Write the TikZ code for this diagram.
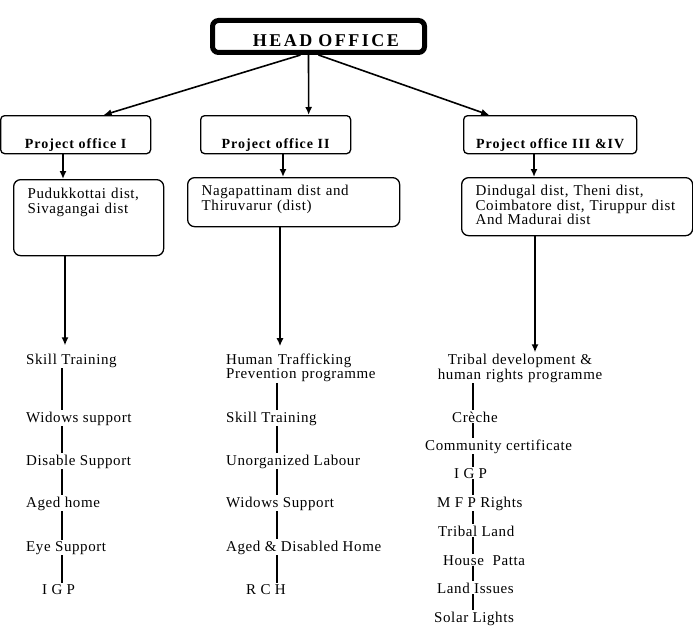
\documentclass[tikz,border=0pt]{standalone}
\usepackage{fontspec}
\setmainfont{Liberation Serif}[LetterSpace=4]
\usetikzlibrary{arrows.meta}

\begin{document}
\begin{tikzpicture}[x=1pt,y=-1pt,
  item/.style={anchor=base west, inner sep=1pt, font=\fontsize{15}{15}\selectfont},
  office/.style={draw, rounded corners=4pt, line width=1.3pt, anchor=north west, inner xsep=2pt, inner ysep=0pt, align=center, text height=33pt, text depth=5pt, font=\fontsize{14}{14}\selectfont\bfseries\addfontfeatures{LetterSpace=7}},
  district/.style={draw, rounded corners=7pt, line width=1.3pt, anchor=north west, inner xsep=14pt, inner ysep=0pt, align=left, font=\fontsize{15}{14.5}\selectfont},
  arr/.style={-{Latex[length=8pt,width=7pt]}, line width=1.6pt},
  link/.style={line width=2.2pt}
]
\useasboundingbox (0,0) rectangle (693,626);

% head office
\node[draw, rounded corners=6pt, line width=5pt, anchor=north west, inner xsep=25.5pt, inner ysep=0pt, text width=161pt, align=right, text height=26.5pt, text depth=5.5pt, font=\fontsize{18}{18}\selectfont\bfseries\addfontfeatures{LetterSpace=14}] (head) at (210,18) {HEAD OFFICE};

% project offices
\node[office, text width=146pt] (po1) at (0,115) {Project office I};
\node[office, text width=146pt] (po2) at (200,115) {Project office II};
\node[office, text width=169pt] (po3) at (463,115) {Project office III \&IV};

% districts
\node[district, text width=122pt, text height=19pt, text depth=57pt] (pud) at (13,179) {Pudukkottai dist,\\Sivagangai dist};
\node[district, text width=184pt, text height=18pt, text depth=31pt] (nag) at (187,177) {Nagapattinam dist and\\Thiruvarur (dist)};
\node[district, text width=203pt, text height=18pt, text depth=40pt] (din) at (461,177) {Dindugal dist, Theni dist,\\Coimbatore dist, Tiruppur dist\\And Madurai dist};

% spines
\coordinate (t1) at (63,0);
\coordinate (t2) at (283,0);
\coordinate (t3) at (534,0);
\coordinate (d1) at (65,0);
\coordinate (d2) at (280,0);
\coordinate (d3) at (535,0);
\coordinate (c1) at (62,0);
\coordinate (c2) at (277,0);
\coordinate (c3) at (473,0);

% column I
\node[item] (st1) at (25,364) {Skill Training};
\node[item] (wid1) at (25,422) {Widows support};
\node[item] (dis1) at (25,465) {Disable Support};
\node[item] (age1) at (25,507) {Aged home};
\node[item] (eye1) at (25,551) {Eye Support};
\node[item] (igp1) at (41,594) {I G P};

% column II
\node[item, text width=160pt, align=left] (hum2) at (225,364) {Human Trafficking\\[-0.5pt]Prevention programme};
\node[item] (st2) at (225,422) {Skill Training};
\node[item] (lab2) at (225,465) {Unorganized Labour};
\node[item] (wid2) at (225,507) {Widows Support};
\node[item] (age2) at (225,551) {Aged \& Disabled Home};
\node[item] (rch2) at (245,594) {R C H};

% column III
\node[item, anchor=base, text width=190pt, align=center] (tri3) at (520,364) {Tribal development \&\\human rights programme};
\node[item] (cre3) at (451,422) {Crèche};
\node[item] (com3) at (424,450) {Community certificate};
\node[item] (igp3) at (453,478) {I G P};
\node[item] (mfp3) at (436,507) {M F P Rights};
\node[item] (land3) at (437,536) {Tribal Land};
\node[item] (hou3) at (442,565) {House~ Patta};
\node[item] (iss3) at (436,593) {Land Issues};
\node[item] (sol3) at (433,622) {Solar Lights};

% arrows
\draw[arr] ([xshift=-18pt]head.south) -- ([xshift=28pt]po1.north);
\draw[arr] ([xshift=-10pt]head.south) -- ([xshift=33pt]po2.north);
\draw[arr] (head.south) -- ([xshift=-61pt]po3.north);
\draw[arr] (po1.south -| t1) -- (pud.north -| t1);
\draw[arr] (po2.south -| t2) -- (nag.north -| t2);
\draw[arr] (po3.south -| t3) -- (din.north -| t3);
\draw[arr, shorten >=7pt] (pud.south -| d1) -- (st1.north -| d1);
\draw[arr, shorten >=6pt] (nag.south -| d2) -- (hum2.north -| d2);
\draw[arr] (din.south -| d3) -- (tri3.north -| d3);

% links
\draw[link] (st1.south -| c1) -- (wid1.north -| c1);
\draw[link] (wid1.south -| c1) -- (dis1.north -| c1);
\draw[link] (dis1.south -| c1) -- (age1.north -| c1);
\draw[link] (age1.south -| c1) -- (eye1.north -| c1);
\draw[link] (eye1.south -| c1) -- (igp1.north -| c1);
\draw[link] (hum2.south -| c2) -- (st2.north -| c2);
\draw[link] (st2.south -| c2) -- (lab2.north -| c2);
\draw[link] (lab2.south -| c2) -- (wid2.north -| c2);
\draw[link] (wid2.south -| c2) -- (age2.north -| c2);
\draw[link] (age2.south -| c2) -- (rch2.north -| c2);
\draw[link] (tri3.south -| c3) -- (cre3.north -| c3);
\draw[link] (cre3.south -| c3) -- (com3.north -| c3);
\draw[link] (com3.south -| c3) -- (igp3.north -| c3);
\draw[link] (igp3.south -| c3) -- (mfp3.north -| c3);
\draw[link] (mfp3.south -| c3) -- (land3.north -| c3);
\draw[link] (land3.south -| c3) -- (hou3.north -| c3);
\draw[link] (hou3.south -| c3) -- (iss3.north -| c3);
\draw[link] (iss3.south -| c3) -- (sol3.north -| c3);
\end{tikzpicture}
\end{document}
